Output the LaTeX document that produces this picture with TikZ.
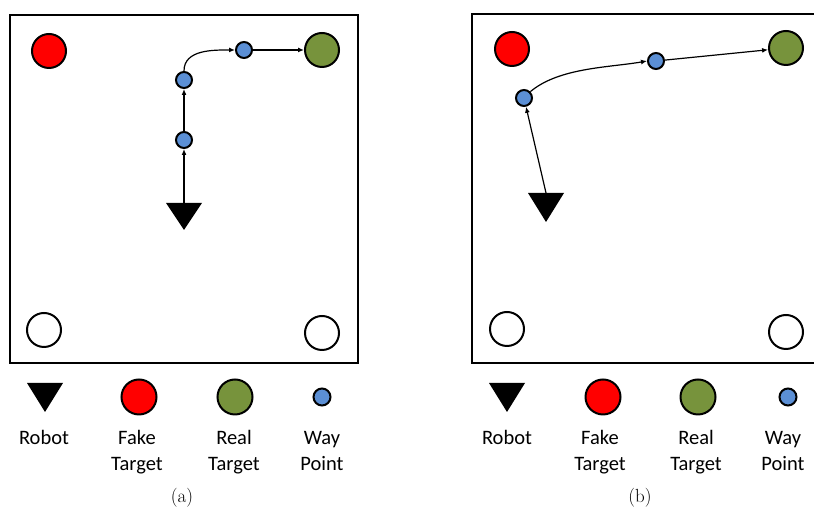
\documentclass[tikz,border=0pt]{standalone}
\usepackage{fontspec}
\newfontfamily\legfont{Carlito}
\usetikzlibrary{arrows.meta}
\definecolor{wpblue}{HTML}{5B8FD5}
\definecolor{realgreen}{HTML}{77933C}
\begin{document}
\begin{tikzpicture}[x=1pt,y=1pt,
  dot/.style={circle, draw=black, line width=2pt, inner sep=0pt, minimum size=#1},
  fake/.style={dot=34pt, fill=red},
  real/.style={dot=34pt, fill=realgreen},
  empty/.style={dot=34pt, fill=white},
  way/.style={dot=16pt, fill=wpblue},
  arr/.style={line width=1.2pt, -{Latex[length=6pt,width=5pt]}},
  frame/.style={line width=2.6pt},
  lbl/.style={font=\legfont\fontsize{20.5}{24}\selectfont, anchor=base, inner sep=0pt},
  captxt/.style={font=\fontsize{19}{23}\selectfont, inner sep=0pt}]
\useasboundingbox (0,0) rectangle (814,518);
\clip (0,0) rectangle (814,518);

% ---------- panel (a) ----------
\draw[frame] (10,155) rectangle (358,503);
\node[fake]  (redA)   at (49,467)  {};
\node[real]  (greenA) at (322,468) {};
\node[empty] (wA1)    at (44,188)  {};
\node[empty] (wA2)    at (322,185) {};
\node[way]   (a1)     at (184,378) {};
\node[way]   (a2)     at (184,438) {};
\node[way]   (a3)     at (244,468) {};
\coordinate (robA) at (184,315);
\fill (robA) ++(-18,0) -- ++(36,0) -- ++(-18,-27) -- cycle;
\draw[arr] (robA) -- (a1);
\draw[arr] (a1) -- (a2);
\draw[arr] (a2.north) to[out=90,in=180] (a3.west);
\draw[arr] (a3) -- (greenA);

% ---------- panel (b) ----------
\draw[frame] (472,155) rectangle (822,504);
\node[fake]  (redB)   at (512,469) {};
\node[real]  (greenB) at (786,470) {};
\node[empty] (wB1)    at (507,189) {};
\node[empty] (wB2)    at (786,186) {};
\node[way]   (b1)     at (524,420) {};
\node[way]   (b2)     at (656,457) {};
\coordinate (robB) at (546,325);
\fill (robB) ++(-18,0) -- ++(36,0) -- ++(-18,-29) -- cycle;
\draw[arr] (robB) -- (b1);
\draw[arr] (b1.45) to[out=40,in=190,looseness=0.8] (b2.west);
\draw[arr] (b2) -- (greenB);

% ---------- legend (a) ----------
\coordinate (ltA) at (45,135);
\fill (ltA) ++(-18,0) -- ++(36,0) -- ++(-18,-29) -- cycle;
\node[dot=35pt, fill=red]       (lfA) at (139,121) {};
\node[dot=35pt, fill=realgreen] (lrA) at (235,121) {};
\node[dot=17pt, fill=wpblue]    (lwA) at (322,121) {};
\node[lbl] (tRobA)  at (44,73)  {Robot};
\node[lbl] (tFakA)  at (137,73) {Fake};
\node[lbl] (tFakA2) at (137,47) {Target};
\node[lbl] (tReaA)  at (234,73) {Real};
\node[lbl] (tReaA2) at (234,47) {Target};
\node[lbl] (tWayA)  at (322,73) {Way};
\node[lbl] (tWayA2) at (322,47) {Point};
\node[captxt] (capA) at (182,20) {(a)};

% ---------- legend (b) ----------
\coordinate (ltB) at (507,135);
\fill (ltB) ++(-18,0) -- ++(36,0) -- ++(-18,-29) -- cycle;
\node[dot=35pt, fill=red]       (lfB) at (603,121) {};
\node[dot=35pt, fill=realgreen] (lrB) at (698,121) {};
\node[dot=17pt, fill=wpblue]    (lwB) at (788,121) {};
\node[lbl] (tRobB)  at (507,73) {Robot};
\node[lbl] (tFakB)  at (600,73) {Fake};
\node[lbl] (tFakB2) at (600,47) {Target};
\node[lbl] (tReaB)  at (696,73) {Real};
\node[lbl] (tReaB2) at (696,47) {Target};
\node[lbl] (tWayB)  at (783,73) {Way};
\node[lbl] (tWayB2) at (783,47) {Point};
\node[captxt] (capB) at (640,20) {(b)};
\end{tikzpicture}
\end{document}
